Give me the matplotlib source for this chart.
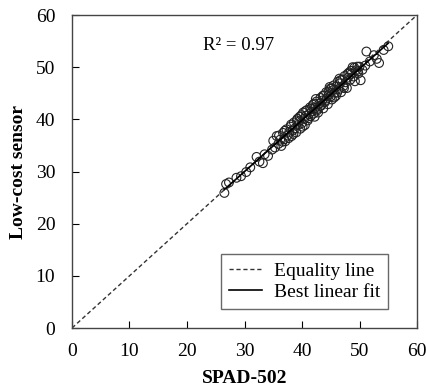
import numpy as np
import matplotlib
matplotlib.use("Agg")
import matplotlib.pyplot as plt

# SPAD-502 readings vs low-cost sensor readings
spad = [26.5, 26.8, 27.3, 28.6, 29.4, 30.3, 31.0, 32.1, 32.6, 33.2,
        33.5, 34.1, 34.8, 35.0, 35.3, 35.6, 35.9, 36.2, 36.4, 36.7,
        36.9, 37.1, 37.3, 37.5, 37.8, 38.0, 38.2, 38.4, 38.6, 38.8,
        39.0, 39.2, 39.3, 39.5, 39.7, 39.9, 40.0, 40.2, 40.4, 40.5,
        40.7, 40.9, 41.0, 41.2, 41.4, 41.5, 41.7, 41.9, 42.0, 42.2,
        42.3, 42.5, 42.7, 42.8, 43.0, 43.2, 43.3, 43.5, 43.7, 43.8,
        44.0, 44.2, 44.3, 44.5, 44.7, 44.9, 45.0, 45.2, 45.4, 45.5,
        45.7, 45.9, 46.0, 46.2, 46.4, 46.6, 46.8, 47.0, 47.2, 47.4,
        47.6, 47.8, 48.0, 48.2, 48.4, 48.6, 48.8, 49.0, 49.2, 49.4,
        49.6, 49.8, 50.0, 50.2, 50.5, 51.0, 51.2, 51.8, 52.5, 53.0,
        53.4, 54.2, 55.0,
        36.0, 36.6, 37.0, 37.7, 38.1, 38.5, 39.1, 39.6, 40.1, 40.6,
        41.1, 41.6, 42.1, 42.6, 43.1, 43.6, 44.1, 44.6, 45.1, 45.6,
        46.1, 46.7, 47.3, 47.9, 48.5, 49.1, 49.7, 42.4, 44.8, 46.5]
sensor = [25.9, 27.6, 27.9, 28.8, 29.1, 29.9, 30.8, 32.8, 31.9, 31.6,
          33.3, 33.0, 34.2, 35.9, 34.6, 36.8, 35.3, 36.1, 34.9, 37.4,
          36.2, 35.8, 38.1, 36.9, 37.6, 38.6, 36.8, 37.9, 39.4, 38.3,
          37.5, 40.1, 38.9, 39.6, 38.2, 40.8, 39.3, 41.3, 40.1, 38.9,
          40.7, 41.8, 39.8, 41.0, 42.3, 40.6, 41.5, 42.8, 41.1, 40.5,
          42.2, 43.4, 42.0, 41.3, 43.0, 44.1, 42.6, 43.6, 42.1, 44.6,
          43.3, 45.2, 44.0, 42.9, 44.8, 45.9, 44.4, 43.8, 45.6, 46.5,
          45.1, 44.5, 46.3, 47.2, 45.8, 46.9, 45.2, 47.6, 46.4, 48.3,
          47.1, 46.0, 48.0, 49.0, 47.6, 48.7, 50.0, 48.2, 47.3, 49.4,
          50.1, 48.8, 50.1, 47.5, 49.5, 50.3, 53.0, 51.1, 52.3, 51.6,
          50.8, 53.3, 54.0,
          36.9, 35.7, 37.8, 36.4, 39.0, 37.2, 39.8, 40.5, 38.6, 41.6,
          40.2, 42.0, 43.0, 41.7, 42.5, 44.5, 43.6, 45.3, 45.9, 44.2,
          45.1, 47.5, 46.0, 48.7, 49.3, 49.9, 49.2, 43.9, 46.2, 47.8]
r2_label = "R² = 0.97"

plt.rcParams['font.family'] = ['Liberation Serif', 'DejaVu Serif']

fig = plt.figure(figsize=(4.27, 3.89), dpi=100)
ax = fig.add_axes([0.1686, 0.1568, 0.808, 0.8046])

xs = np.array(spad)
ys = np.array(sensor)

# equality line
ax.plot([0, 60], [0, 60], linestyle=(0, (3, 2)), color='#333333', lw=1.0,
        label='Equality line')
# data
ax.scatter(xs, ys, s=40, facecolors='none', edgecolors='#222222', linewidths=0.8, zorder=3)
# best linear fit
slope, intercept = np.polyfit(xs, ys, 1)
fx = np.array([xs.min(), xs.max()])
ax.plot(fx, intercept + slope * fx, color='black', lw=1.2, label='Best linear fit', zorder=4)

ax.set_xlim(0, 60)
ax.set_ylim(0, 60)
ax.set_xticks(range(0, 61, 10))
ax.set_yticks(range(0, 61, 10))
ax.tick_params(direction='in', length=5, labelsize=14, top=False, right=False)
ax.tick_params(axis='x', pad=11)
ax.tick_params(axis='y', pad=12)
for sp in ax.spines.values():
    sp.set_color('#444444')
    sp.set_linewidth(1.0)

ax.set_xlabel('SPAD-502', fontsize=14, fontweight='bold', labelpad=7)
ax.set_ylabel('Low-cost sensor', fontsize=14, fontweight='bold', labelpad=6)

ax.text(22.8, 54.2, r2_label, fontsize=13.5, va='center', ha='left')

leg = ax.legend(loc='lower right', bbox_to_anchor=(0.916, 0.061), fontsize=14,
                frameon=True, fancybox=False, edgecolor='#444444', borderaxespad=0,
                handlelength=1.7, borderpad=0.4, labelspacing=0.2, handletextpad=0.6)
leg.get_frame().set_linewidth(1.0)

fig.savefig('out.png', dpi=100)
